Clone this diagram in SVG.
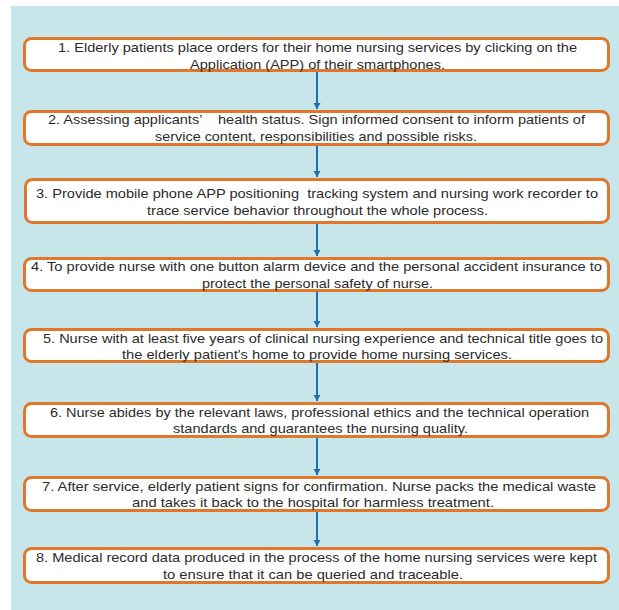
<svg xmlns="http://www.w3.org/2000/svg" width="619" height="610" viewBox="0 0 619 610">
<style>
.box{fill:#ffffff;stroke:#e0772a;stroke-width:3}
.t{font-family:"Liberation Sans",Arial,sans-serif;font-size:13.5px;fill:#2b2b2b;white-space:pre}
.c{stroke:#1f6fb2;stroke-width:2;fill:none;marker-end:url(#ah)}
</style>
<defs>
<marker id="ah" markerWidth="8" markerHeight="8" refX="6" refY="3.5" orient="auto" markerUnits="userSpaceOnUse">
<path d="M0,0 L6,3.5 L0,7 z" fill="#1f6fb2"/>
</marker>
</defs>
<rect x="0" y="0" width="619" height="610" fill="#ffffff"/>
<rect x="11" y="6" width="608" height="604" fill="#c7e6ea"/>
<g id="connectors">
<line class="c" x1="317" y1="72" x2="317" y2="109"/>
<line class="c" x1="317" y1="146" x2="317" y2="177"/>
<line class="c" x1="317" y1="224" x2="317" y2="256"/>
<line class="c" x1="317" y1="292" x2="317" y2="327"/>
<line class="c" x1="317" y1="363" x2="317" y2="401"/>
<line class="c" x1="317" y1="438" x2="317" y2="475"/>
<line class="c" x1="317" y1="512" x2="317" y2="546"/>
</g>
<g id="n1">
<rect class="box" x="24.5" y="38.5" width="584" height="32" rx="7"/>
<text class="t" x="58" y="52" textLength="519" lengthAdjust="spacingAndGlyphs">1. Elderly patients place orders for their home nursing services by clicking on the</text>
<text class="t" x="190" y="68.5" textLength="255" lengthAdjust="spacingAndGlyphs">Application (APP) of their smartphones.</text>
</g>
<g id="n2">
<rect class="box" x="24.5" y="111.5" width="584" height="33" rx="7"/>
<text class="t" x="48" y="124" textLength="537" lengthAdjust="spacingAndGlyphs">2. Assessing applicants’    health status. Sign informed consent to inform patients of</text>
<text class="t" x="155" y="140.5" textLength="322" lengthAdjust="spacingAndGlyphs">service content, responsibilities and possible risks.</text>
</g>
<g id="n3">
<rect class="box" x="25.5" y="179.5" width="583" height="43" rx="7"/>
<text class="t" x="36" y="198" textLength="562" lengthAdjust="spacingAndGlyphs">3. Provide mobile phone APP positioning  tracking system and nursing work recorder to</text>
<text class="t" x="147" y="214.5" textLength="341" lengthAdjust="spacingAndGlyphs">trace service behavior throughout the whole process.</text>
</g>
<g id="n4">
<rect class="box" x="24.5" y="258.5" width="584" height="32" rx="7"/>
<text class="t" x="31" y="271" textLength="571" lengthAdjust="spacingAndGlyphs">4. To provide nurse with one button alarm device and the personal accident insurance to</text>
<text class="t" x="202" y="287.5" textLength="231" lengthAdjust="spacingAndGlyphs">protect the personal safety of nurse.</text>
</g>
<g id="n5">
<rect class="box" x="24.5" y="329.5" width="584" height="32" rx="7"/>
<text class="t" x="43" y="342.5" textLength="560" lengthAdjust="spacingAndGlyphs">5. Nurse with at least five years of clinical nursing experience and technical title goes to</text>
<text class="t" x="122" y="359" textLength="390" lengthAdjust="spacingAndGlyphs">the elderly patient's home to provide home nursing services.</text>
</g>
<g id="n6">
<rect class="box" x="24.5" y="403.5" width="584" height="33" rx="7"/>
<text class="t" x="50" y="416.5" textLength="539" lengthAdjust="spacingAndGlyphs">6. Nurse abides by the relevant laws, professional ethics and the technical operation</text>
<text class="t" x="173" y="433" textLength="295" lengthAdjust="spacingAndGlyphs">standards and guarantees the nursing quality.</text>
</g>
<g id="n7">
<rect class="box" x="24.5" y="477.5" width="584" height="33" rx="7"/>
<text class="t" x="42" y="490.5" textLength="554" lengthAdjust="spacingAndGlyphs">7. After service, elderly patient signs for confirmation. Nurse packs the medical waste</text>
<text class="t" x="132" y="507" textLength="362" lengthAdjust="spacingAndGlyphs">and takes it back to the hospital for harmless treatment.</text>
</g>
<g id="n8">
<rect class="box" x="24.5" y="548.5" width="584" height="34" rx="7"/>
<text class="t" x="36" y="562" textLength="561" lengthAdjust="spacingAndGlyphs">8. Medical record data produced in the process of the home nursing services were kept</text>
<text class="t" x="163" y="578.5" textLength="300" lengthAdjust="spacingAndGlyphs">to ensure that it can be queried and traceable.</text>
</g>
</svg>
